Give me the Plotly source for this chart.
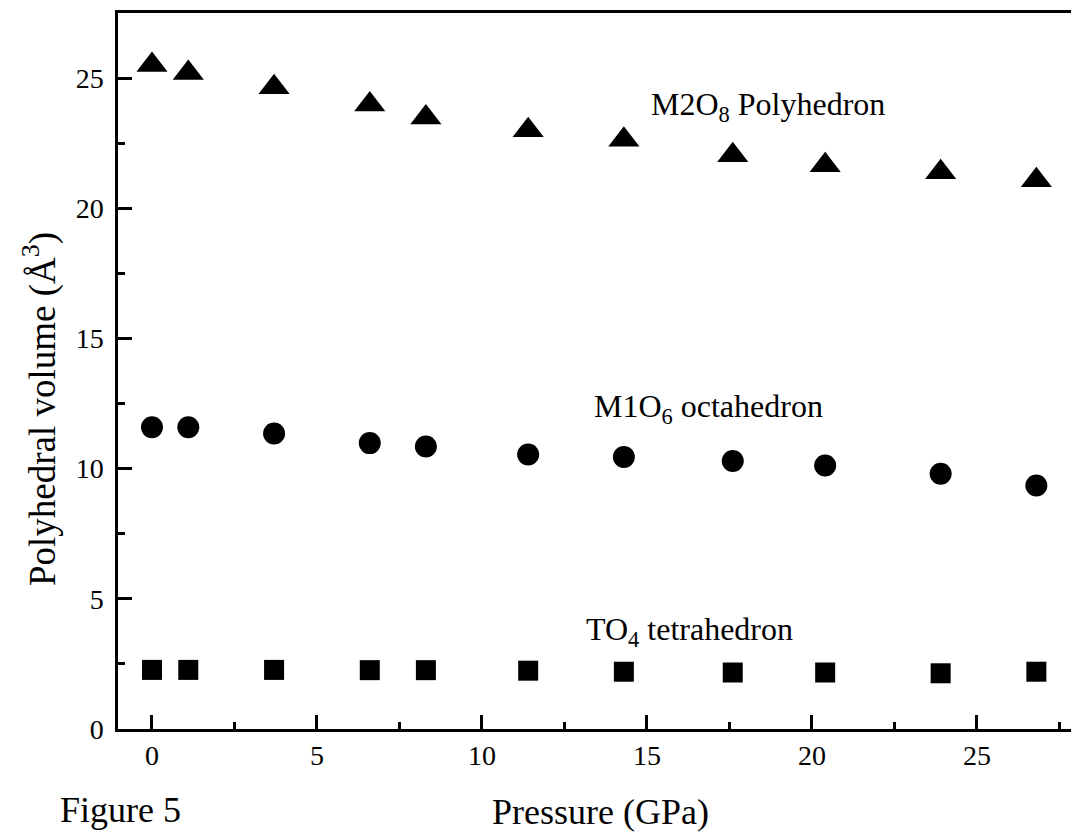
import plotly.graph_objects as go

pressure = [0, 1.1, 3.7, 6.6, 8.3, 11.4, 14.3, 17.6, 20.4, 23.9, 26.8]
m2o8 = [25.5, 25.2, 24.65, 23.99, 23.49, 23.0, 22.63, 22.04, 21.65, 21.38, 21.08]
m1o6 = [11.59, 11.59, 11.35, 10.98, 10.85, 10.54, 10.45, 10.29, 10.12, 9.8, 9.35]
to4 = [2.27, 2.27, 2.27, 2.26, 2.26, 2.24, 2.2, 2.17, 2.17, 2.14, 2.2]

series_labels = ["M2O<sub>8</sub> Polyhedron", "M1O<sub>6</sub> octahedron", "TO<sub>4</sub> tetrahedron"]
label_pos = [(18.67, 23.9), (16.85, 12.3), (16.3, 3.75)]

FONT = "Liberation Serif, Times New Roman, serif"
L, T, B, R = 118, 13, 729, 1071
W, H = 1071, 838

fig = go.Figure()
fig.add_trace(go.Scatter(x=pressure, y=m2o8, mode="markers",
                         marker=dict(symbol="triangle-up", size=27, color="black")))
fig.add_trace(go.Scatter(x=pressure, y=m1o6, mode="markers",
                         marker=dict(symbol="circle", size=22, color="black")))
fig.add_trace(go.Scatter(x=pressure, y=to4, mode="markers",
                         marker=dict(symbol="square", size=20, color="black")))

annos = []
for txt, (ax, ay) in zip(series_labels, label_pos):
    annos.append(dict(x=ax, y=ay, xref="x", yref="y", text=txt, showarrow=False,
                      font=dict(family=FONT, size=32, color="black"),
                      xanchor="center", yanchor="middle"))

def px(xp):
    return (xp - L) / (R - L)

def py(yp):
    return (B - yp) / (B - T)

annos.append(dict(x=px(600), y=py(812), xref="paper", yref="paper", text="Pressure (GPa)",
                  showarrow=False, font=dict(family=FONT, size=36, color="black"),
                  xanchor="center", yanchor="middle"))
annos.append(dict(x=px(120), y=py(810), xref="paper", yref="paper", text="Figure 5",
                  showarrow=False, font=dict(family=FONT, size=36, color="black"),
                  xanchor="center", yanchor="middle"))
annos.append(dict(x=px(40), y=py(409), xref="paper", yref="paper",
                  text="Polyhedral volume (Å<sup>3</sup>)", textangle=-90,
                  showarrow=False, font=dict(family=FONT, size=37, color="black"),
                  xanchor="center", yanchor="middle"))

fig.update_layout(
    width=W, height=H,
    margin=dict(l=L, r=W - R, t=T, b=H - B, pad=0),
    paper_bgcolor="white", plot_bgcolor="white",
    showlegend=False,
    annotations=annos,
    font=dict(family=FONT, color="black"),
)
fig.update_xaxes(range=[-1.03, 27.85], showgrid=False, zeroline=False,
                 showline=True, linecolor="black", linewidth=2.5, mirror=True,
                 ticks="inside", ticklen=14, tickwidth=2.5, tickcolor="black",
                 dtick=5, tick0=0, tickfont=dict(family=FONT, size=28, color="black"),
                 minor=dict(ticks="inside", ticklen=7, tickwidth=2.5, tickcolor="black", dtick=2.5, tick0=0),
                 ticklabelstandoff=0)
fig.update_yaxes(range=[0, 27.5], showgrid=False, zeroline=False,
                 showline=True, linecolor="black", linewidth=2.5,
                 ticks="inside", ticklen=14, tickwidth=2.5, tickcolor="black",
                 dtick=5, tick0=0, tickfont=dict(family=FONT, size=28, color="black"),
                 minor=dict(ticks="inside", ticklen=7, tickwidth=2.5, tickcolor="black", dtick=2.5, tick0=0),
                 ticklabelstandoff=6)

fig.write_html("out.html")
